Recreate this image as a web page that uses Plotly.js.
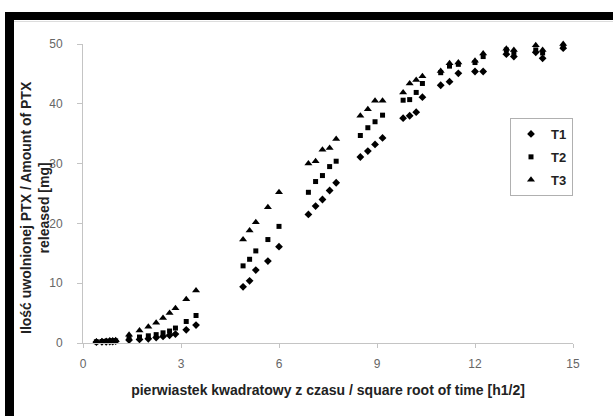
<!DOCTYPE html>
<html>
<head>
<meta charset="utf-8">
<script src="https://cdn.plot.ly/plotly-3.0.1.min.js"></script>
<style>
  html, body { margin: 0; padding: 0; background: #fff; }
  #chart { width: 613px; height: 416px; }
</style>
</head>
<body>
<div id="chart"></div>
<script>
// square root of time [h^1/2]
const sqrtTime = [0.41, 0.58, 0.71, 0.82, 0.91, 1.0,
  1.41, 1.73, 2.0, 2.24, 2.45, 2.65, 2.83, 3.16, 3.46,
  4.9, 5.1, 5.29, 5.66, 6.0,
  6.9, 7.12, 7.33, 7.55, 7.75,
  8.49, 8.72, 8.94, 9.17,
  9.8, 10.0, 10.2, 10.39,
  10.95, 11.22, 11.49,
  12.0, 12.25,
  12.96, 13.19,
  13.86, 14.07,
  14.7];

// amount of PTX released [mg]
const T1 = [0.15, 0.2, 0.2, 0.25, 0.25, 0.3,
  0.5, 0.6, 0.7, 0.9, 1.1, 1.3, 1.5, 2.2, 3.0,
  9.4, 10.4, 12.2, 13.7, 16.1,
  21.5, 22.9, 24.0, 25.5, 26.8,
  31.1, 32.1, 33.2, 34.3,
  37.6, 38.0, 38.6, 41.1,
  43.1, 43.7, 45.1,
  45.4, 45.4,
  48.3, 47.9,
  48.6, 47.6,
  49.3];

const T2 = [0.2, 0.25, 0.3, 0.3, 0.35, 0.35,
  0.8, 1.0, 1.2, 1.4, 1.7, 2.0, 2.5, 3.6, 4.6,
  12.9, 14.0, 15.4, 17.3, 19.5,
  25.2, 27.0, 28.0, 29.5, 30.4,
  34.7, 36.0, 37.0, 38.1,
  40.6, 40.7, 41.9, 43.4,
  45.2, 46.3, 46.6,
  46.9, 47.9,
  49.0, 48.6,
  49.0, 48.5,
  49.6];

const T3 = [0.25, 0.3, 0.35, 0.4, 0.4, 0.45,
  1.4, 2.1, 2.7, 3.4, 4.2, 5.0, 5.8, 7.3, 8.8,
  17.3, 18.8, 20.2, 22.7, 25.2,
  30.0, 30.4, 32.3, 32.6, 34.1,
  38.0, 39.1, 40.5, 40.5,
  41.9, 43.4, 44.0, 44.6,
  45.5, 46.8, 46.9,
  47.2, 48.4,
  49.2, 49.0,
  49.8, 49.0,
  50.0];

const seriesNames = ['T1', 'T2', 'T3'];
const xTicks = [0, 3, 6, 9, 12, 15];
const yTicks = [0, 10, 20, 30, 40, 50];
const xTitle = 'pierwiastek kwadratowy z czasu / square root of time [h1/2]';
const yTitle = 'Ilość uwolnionej PTX / Amount of PTX<br>released [mg]';

const FONT = 'Liberation Sans, Arial, sans-serif';

function tr(name, y, symbol, size) {
  return {
    type: 'scatter', mode: 'markers', name: name, x: sqrtTime, y: y,
    legendgroup: name, cliponaxis: false,
    marker: { symbol: symbol, size: size, color: '#000' }
  };
}

const data = [
  tr(seriesNames[0], T1, 'diamond', 6),
  tr(seriesNames[1], T2, 'square', 5),
  tr(seriesNames[2], T3, 'triangle-up', 7)
];

// pixel -> paper helpers for the decorative frame and title placement
const L = 83, PW = 490, B = 343, PH = 299;
const px = v => (v - L) / PW;
const py = v => (B - v) / PH;

const layout = {
  width: 613, height: 416,
  margin: { l: 83, r: 40, t: 44, b: 73 },
  paper_bgcolor: '#fff', plot_bgcolor: '#fff',
  font: { family: FONT, color: '#222', size: 12 },
  showlegend: true,
  legend: {
    x: px(510), y: py(118), xanchor: 'left', yanchor: 'top',
    bordercolor: '#b0b0b0', borderwidth: 1, bgcolor: '#fff',
    font: { family: FONT, size: 13, color: '#222', weight: 'bold' },
    traceorder: 'grouped', tracegroupgap: 3
  },
  xaxis: {
    range: [0, 15], tickvals: xTicks, ticktext: xTicks.map(String),
    showline: true, linecolor: '#c4c4c4', linewidth: 1,
    ticks: 'outside', ticklen: 4, tickcolor: '#c4c4c4',
    showgrid: false, zeroline: false, ticklabelstandoff: 6,
    tickfont: { family: FONT, size: 12, color: '#666' },
    title: { text: xTitle,
      font: { family: FONT, size: 14, color: '#222', weight: 'bold' }, standoff: 14 }
  },
  yaxis: {
    range: [0, 50], tickvals: yTicks, ticktext: yTicks.map(String),
    showline: true, linecolor: '#c4c4c4', linewidth: 1,
    ticks: 'outside', ticklen: 5, tickcolor: '#c4c4c4',
    showgrid: false, zeroline: false, ticklabelstandoff: 12,
    tickfont: { family: FONT, size: 12, color: '#666' }
  },
  annotations: [
    { text: yTitle, textangle: -90, xref: 'paper', yref: 'paper',
      x: px(35), y: py(208), xanchor: 'center', yanchor: 'middle', showarrow: false,
      align: 'center', font: { family: FONT, size: 14, color: '#222', weight: 'bold' } }
  ],
  shapes: [
    { type: 'rect', xref: 'paper', yref: 'paper', x0: px(5), x1: px(613), y0: py(20), y1: py(12),
      fillcolor: '#000', line: { width: 0 }, layer: 'above' },
    { type: 'rect', xref: 'paper', yref: 'paper', x0: px(5), x1: px(14), y0: py(416), y1: py(12),
      fillcolor: '#000', line: { width: 0 }, layer: 'above' },
    { type: 'line', xref: 'paper', yref: 'paper', x0: px(14), x1: px(613), y0: py(21.5), y1: py(21.5),
      line: { color: '#dddddd', width: 1 } }
  ]
};

Plotly.newPlot('chart', data, layout, { displayModeBar: false, staticPlot: true });
</script>
</body>
</html>
